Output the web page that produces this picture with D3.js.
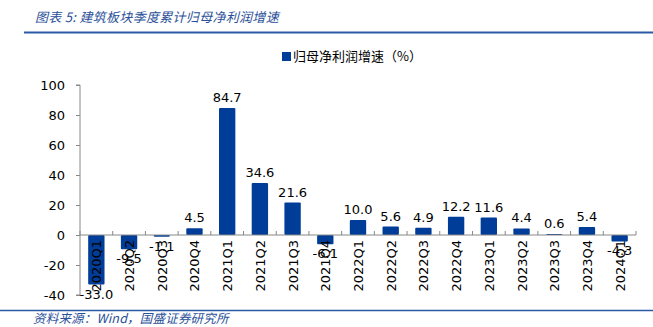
<!DOCTYPE html>
<html><head><meta charset="utf-8">
<script src="https://cdn.jsdelivr.net/npm/d3@7"></script>
<style>body{margin:0;background:#fff}svg{display:block}</style>
</head><body><svg id="c" width="653" height="327"></svg>
<script>
const categories = ["2020Q1","2020Q2","2020Q3","2020Q4","2021Q1","2021Q2","2021Q3","2021Q4","2022Q1","2022Q2","2022Q3","2022Q4","2023Q1","2023Q2","2023Q3","2023Q4","2024Q1"];
const values = [-33.0,-9.5,-1.1,4.5,84.7,34.6,21.6,-6.1,10.0,5.6,4.9,12.2,11.6,4.4,0.6,5.4,-4.3];
const yTicks = [-40,-20,0,20,40,60,80,100];
const seriesName = "归母净利润增速（%）";
const titleText = "图表 5:  建筑板块季度累计归母净利润增速";
const sourceText = "资料来源：Wind，国盛证券研究所";

(function(){
const svg = d3.select("#c");
const font = "Verdana, 'DejaVu Sans', 'Noto Sans CJK SC', sans-serif";
const barColor = "#003d99";
const pL = 80, pR = 636, pT = 85, pB = 295;

const x = d3.scaleBand().domain(categories).range([pL, pR]).paddingInner(0.5).paddingOuter(0.25);
const y = d3.scaleLinear().domain([-40, 100]).range([pB, pT]);

// title
svg.append("text").attr("x", 35).attr("y", 22).attr("font-family", "'Noto Sans CJK SC', sans-serif")
  .attr("font-size", 13).attr("font-style", "italic").attr("letter-spacing", 0.3).attr("fill", "#2a5098").text(titleText);
svg.append("line").attr("x1", 24).attr("x2", 653).attr("y1", 32.5).attr("y2", 32.5).attr("stroke", "#2a5aa6").attr("stroke-width", 2);

// legend
svg.append("rect").attr("x", 282).attr("y", 52).attr("width", 9).attr("height", 9).attr("fill", barColor);
svg.append("text").attr("x", 293).attr("y", 61).attr("font-family", "'Noto Sans CJK SC', sans-serif")
  .attr("font-size", 13).attr("fill", "#000").text(seriesName);

// y axis
const yAxis = d3.axisLeft(y).tickValues(yTicks).tickSize(4).tickPadding(11).tickFormat(d => String(d));
const gy = svg.append("g").attr("transform", `translate(${pL},0)`).call(yAxis);
gy.select(".domain").attr("stroke", "#888").attr("d", `M-4,${pT}H0V${pB}H-4`);
gy.selectAll(".tick line").attr("stroke", "#888");
gy.selectAll(".tick text").attr("font-family", font).attr("font-size", 13).attr("fill", "#000");

// bars
svg.append("g").selectAll("rect").data(values).join("rect")
  .attr("x", (d, i) => x(categories[i]))
  .attr("width", x.bandwidth())
  .attr("y", d => d >= 0 ? y(d) : y(0))
  .attr("height", d => Math.abs(y(d) - y(0)))
  .attr("fill", barColor)
  .attr("rx", 1);

// zero axis with category boundary ticks
const step = x.step();
svg.append("line").attr("x1", pL).attr("x2", pR).attr("y1", y(0)).attr("y2", y(0)).attr("stroke", "#888");
const bounds = categories.map((c, i) => x(c) - (step - x.bandwidth()) / 2).concat([pR]);
svg.append("g").selectAll("line").data(bounds).join("line")
  .attr("x1", d => d).attr("x2", d => d).attr("y1", y(0) - 4).attr("y2", y(0)).attr("stroke", "#888");

// category labels rotated
svg.append("g").selectAll("text").data(categories).join("text")
  .attr("transform", d => `translate(${x(d) + x.bandwidth() / 2 + 5},${y(0) + 5}) rotate(-90)`)
  .attr("text-anchor", "end").attr("font-family", font).attr("font-size", 13).attr("fill", "#000")
  .text(d => d);

// value labels
svg.append("g").selectAll("text").data(values).join("text")
  .attr("x", (d, i) => x(categories[i]) + x.bandwidth() / 2)
  .attr("y", d => d >= 0 ? y(d) - 6 : y(d) + 14)
  .attr("text-anchor", "middle").attr("font-family", font).attr("font-size", 13).attr("fill", "#000")
  .text(d => d.toFixed(1));

// footer
svg.append("line").attr("x1", 0).attr("x2", 653).attr("y1", 310.5).attr("y2", 310.5).attr("stroke", "#2a5aa6").attr("stroke-width", 1.5);
svg.append("text").attr("x", 33).attr("y", 322.5).attr("font-family", "'Noto Sans CJK SC', sans-serif")
  .attr("font-size", 12.5).attr("font-style", "italic").attr("letter-spacing", 0.2).attr("fill", "#2a5098").text(sourceText);
})();
</script></body></html>
